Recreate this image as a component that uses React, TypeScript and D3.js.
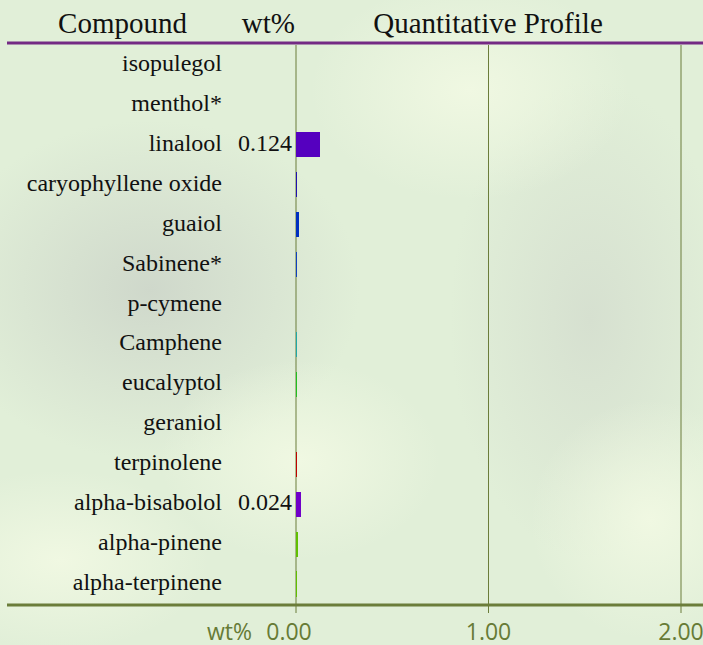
import * as d3 from "d3";

const compounds = [
  "isopulegol",
  "menthol*",
  "linalool",
  "caryophyllene oxide",
  "guaiol",
  "Sabinene*",
  "p-cymene",
  "Camphene",
  "eucalyptol",
  "geraniol",
  "terpinolene",
  "alpha-bisabolol",
  "alpha-pinene",
  "alpha-terpinene",
];
const wtPct = [0, 0, 0.124, 0.005, 0.015, 0.005, 0, 0.005, 0.005, 0, 0.005, 0.024, 0.01, 0.005];
const barColors = [
  "#5a00c0", "#5a00c0", "#5500bf", "#2010b0", "#0030c0", "#1040c0", "#1080b0",
  "#20a8a8", "#20c020", "#40c000", "#c00000", "#7000c8", "#60c000", "#60c000",
];
const tickValues = [0, 1, 2];

const W = 703;
const H = 645;
const top = 45;
const bottom = 604;
const lineColor = "#6b7d3a";
const serif = "'Liberation Serif', 'Times New Roman', serif";

export default function App() {
  const x = d3.scaleLinear().domain([0, 2]).range([296, 681]);
  const y = d3.scaleBand<string>().domain(compounds).range([top, bottom]).paddingInner(0.37).paddingOuter(0.185);
  const band = d3.scaleBand<string>().domain(compounds).range([top, bottom]);
  const fmt = d3.format(".2f");

  // only values large enough get a number next to the bar
  const valueLabel = (v: number) => (v >= 0.02 ? d3.format(".3f")(v) : "");

  return (
    <svg width={W} height={H} style={{ position: "fixed", left: 0, top: 0 }}>
      <defs>
        <radialGradient id="g1" cx="0.5" cy="0.5" r="0.5">
          <stop offset="0" stopColor="#cfd8cb" stopOpacity="1" />
          <stop offset="1" stopColor="#cfd8cb" stopOpacity="0" />
        </radialGradient>
        <radialGradient id="g2" cx="0.5" cy="0.5" r="0.5">
          <stop offset="0" stopColor="#f0f8e2" stopOpacity="1" />
          <stop offset="1" stopColor="#f0f8e2" stopOpacity="0" />
        </radialGradient>
        <radialGradient id="g3" cx="0.5" cy="0.5" r="0.5">
          <stop offset="0" stopColor="#d6e0d0" stopOpacity="1" />
          <stop offset="1" stopColor="#d6e0d0" stopOpacity="0" />
        </radialGradient>
      </defs>
      <rect width={W} height={H} fill="#e1efd8" />
      <ellipse cx={150} cy={290} rx={210} ry={170} fill="url(#g1)" />
      <ellipse cx={590} cy={320} rx={140} ry={240} fill="url(#g3)" />
      <ellipse cx={470} cy={90} rx={160} ry={110} fill="url(#g2)" />
      <ellipse cx={300} cy={460} rx={140} ry={100} fill="url(#g2)" />
      <ellipse cx={60} cy={560} rx={150} ry={90} fill="url(#g2)" />
      <ellipse cx={650} cy={520} rx={120} ry={120} fill="url(#g2)" />

      {/* header */}
      <text x={122.5} y={33} textAnchor="middle" fontFamily={serif} fontSize={29} fill="#111">Compound</text>
      <text x={295} y={33} textAnchor="end" fontFamily={serif} fontSize={29} fill="#111">wt%</text>
      <text x={488} y={33} textAnchor="middle" fontFamily={serif} fontSize={29} fill="#111">Quantitative Profile</text>

      {/* grid */}
      {tickValues.map((t) => (
        <line key={t} x1={x(t)} x2={x(t)} y1={top} y2={613} stroke={lineColor} strokeWidth={1} />
      ))}

      {/* bars */}
      {compounds.map((c, i) =>
        wtPct[i] > 0 ? (
          <rect key={c} x={x(0)} y={y(c)} width={Math.max(1, x(wtPct[i]) - x(0))} height={y.bandwidth()}
            fill={barColors[i]} shapeRendering="crispEdges" />
        ) : null
      )}

      {/* row labels */}
      {compounds.map((c, i) => (
        <g key={c}>
          <text x={222} y={(band(c) ?? 0) + band.bandwidth() / 2 + 6} textAnchor="end" fontFamily={serif} fontSize={24} fill="#111">{c}</text>
          <text x={292} y={(band(c) ?? 0) + band.bandwidth() / 2 + 6} textAnchor="end" fontFamily={serif} fontSize={24} fill="#111">{valueLabel(wtPct[i])}</text>
        </g>
      ))}

      <line x1={7} x2={W} y1={43} y2={43} stroke="#742a84" strokeWidth={3} />
      <line x1={7} x2={W} y1={605} y2={605} stroke={lineColor} strokeWidth={3} />

      {/* axis labels */}
      <text x={252} y={640} textAnchor="end" fontFamily="'Open Sans', sans-serif" fontSize={23} fill="#677b36">wt%</text>
      {tickValues.map((t, i) => (
        <text key={t} x={x(t) + (i === 0 ? -7 : 0)} y={640} textAnchor="middle" fontFamily="'Open Sans', sans-serif" fontSize={23} fill="#677b36">{fmt(t)}</text>
      ))}
    </svg>
  );
}
